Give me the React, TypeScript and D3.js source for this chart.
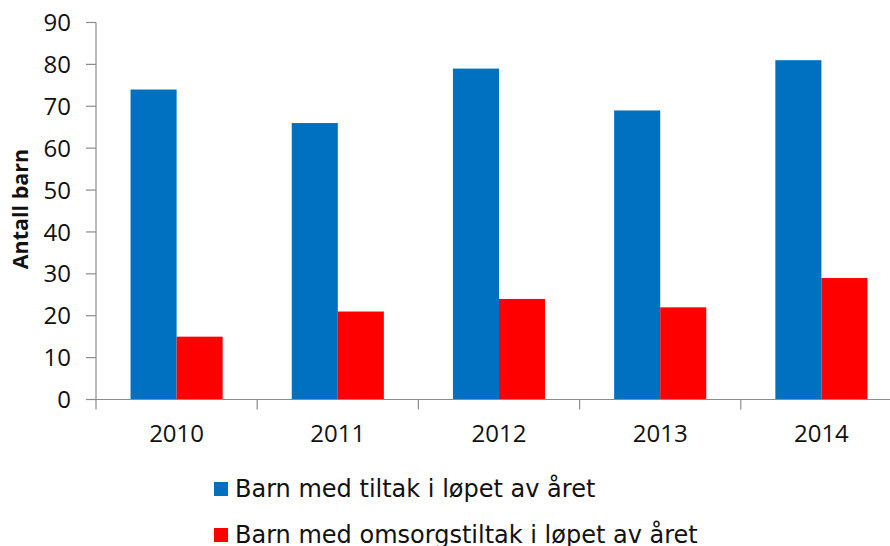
import React from 'react';
import { scaleBand, scaleLinear } from 'd3';

const years = ['2010', '2011', '2012', '2013', '2014'];
const seriesNames = ['Barn med tiltak i løpet av året', 'Barn med omsorgstiltak i løpet av året'];
const tiltak = [74, 66, 79, 69, 81];
const omsorgstiltak = [15, 21, 24, 22, 29];
const yTicks = [0, 10, 20, 30, 40, 50, 60, 70, 80, 90];
const colors = ['#0070C0', '#FF0000'];

const width = 890;
const height = 546;
const margin = { top: 22.5, left: 96, bottom: 146.5 };
const axisColor = '#8c8c8c';

const App = () => {
  const values = [tiltak, omsorgstiltak];
  const xScale = scaleBand().domain(years).range([margin.left, margin.left + 806]);
  const inner = scaleBand()
    .domain(['0', '1'])
    .range([0, xScale.bandwidth()])
    .paddingOuter(0.75);
  const yScale = scaleLinear().domain([0, 90]).range([height - margin.bottom, margin.top]);
  const y0 = yScale(0);

  return (
    <svg
      width={width}
      height={height}
      style={{ position: 'absolute', left: 0, top: 0, background: 'white' }}
    >
      {values.map((vals, s) =>
        vals.map((v, i) => (
          <rect
            key={s + '-' + i}
            x={(xScale(years[i]) || 0) + (inner(String(s)) || 0)}
            y={yScale(v)}
            width={inner.bandwidth()}
            height={y0 - yScale(v)}
            fill={colors[s]}
          />
        ))
      )}

      {/* y axis */}
      <path d={`M ${margin.left} ${yScale(90)} V ${y0}`} stroke={axisColor} strokeWidth={1.2} />
      {yTicks.map(t => (
        <g key={t} transform={`translate(0, ${yScale(t)})`}>
          <line x1={margin.left - 10} x2={margin.left} stroke={axisColor} strokeWidth={1.2} />
          <text
            x={71}
            dy="0.36em"
            textAnchor="end"
            style={{ fontFamily: 'Open Sans', fontSize: '24px', fill: '#111' }}
          >
            {t}
          </text>
        </g>
      ))}

      {/* x axis */}
      <path d={`M ${margin.left} ${y0} H ${width}`} stroke={axisColor} strokeWidth={1.2} />
      {years.map(y => (
        <g key={y}>
          <line
            x1={xScale(y)}
            x2={xScale(y)}
            y1={y0}
            y2={y0 + 10}
            stroke={axisColor}
            strokeWidth={1.2}
          />
          <text
            x={(xScale(y) || 0) + xScale.bandwidth() / 2}
            y={442}
            textAnchor="middle"
            style={{ fontFamily: 'Open Sans', fontSize: '24px', fill: '#111' }}
          >
            {y}
          </text>
        </g>
      ))}

      <text
        transform="translate(28, 209) rotate(-90)"
        textAnchor="middle"
        style={{ fontFamily: 'Open Sans', fontSize: '21.5px', fontWeight: 'bold', fill: '#111' }}
      >
        Antall barn
      </text>

      {/* legend */}
      {seriesNames.map((name, s) => (
        <g key={name} transform={`translate(214, ${482 + s * 46})`}>
          <rect width={14} height={14} fill={colors[s]} />
          <text
            x={21}
            y={15}
            style={{ fontFamily: 'DejaVu Sans', fontSize: '24px', fill: '#111' }}
          >
            {name}
          </text>
        </g>
      ))}
    </svg>
  );
};

export default App;
